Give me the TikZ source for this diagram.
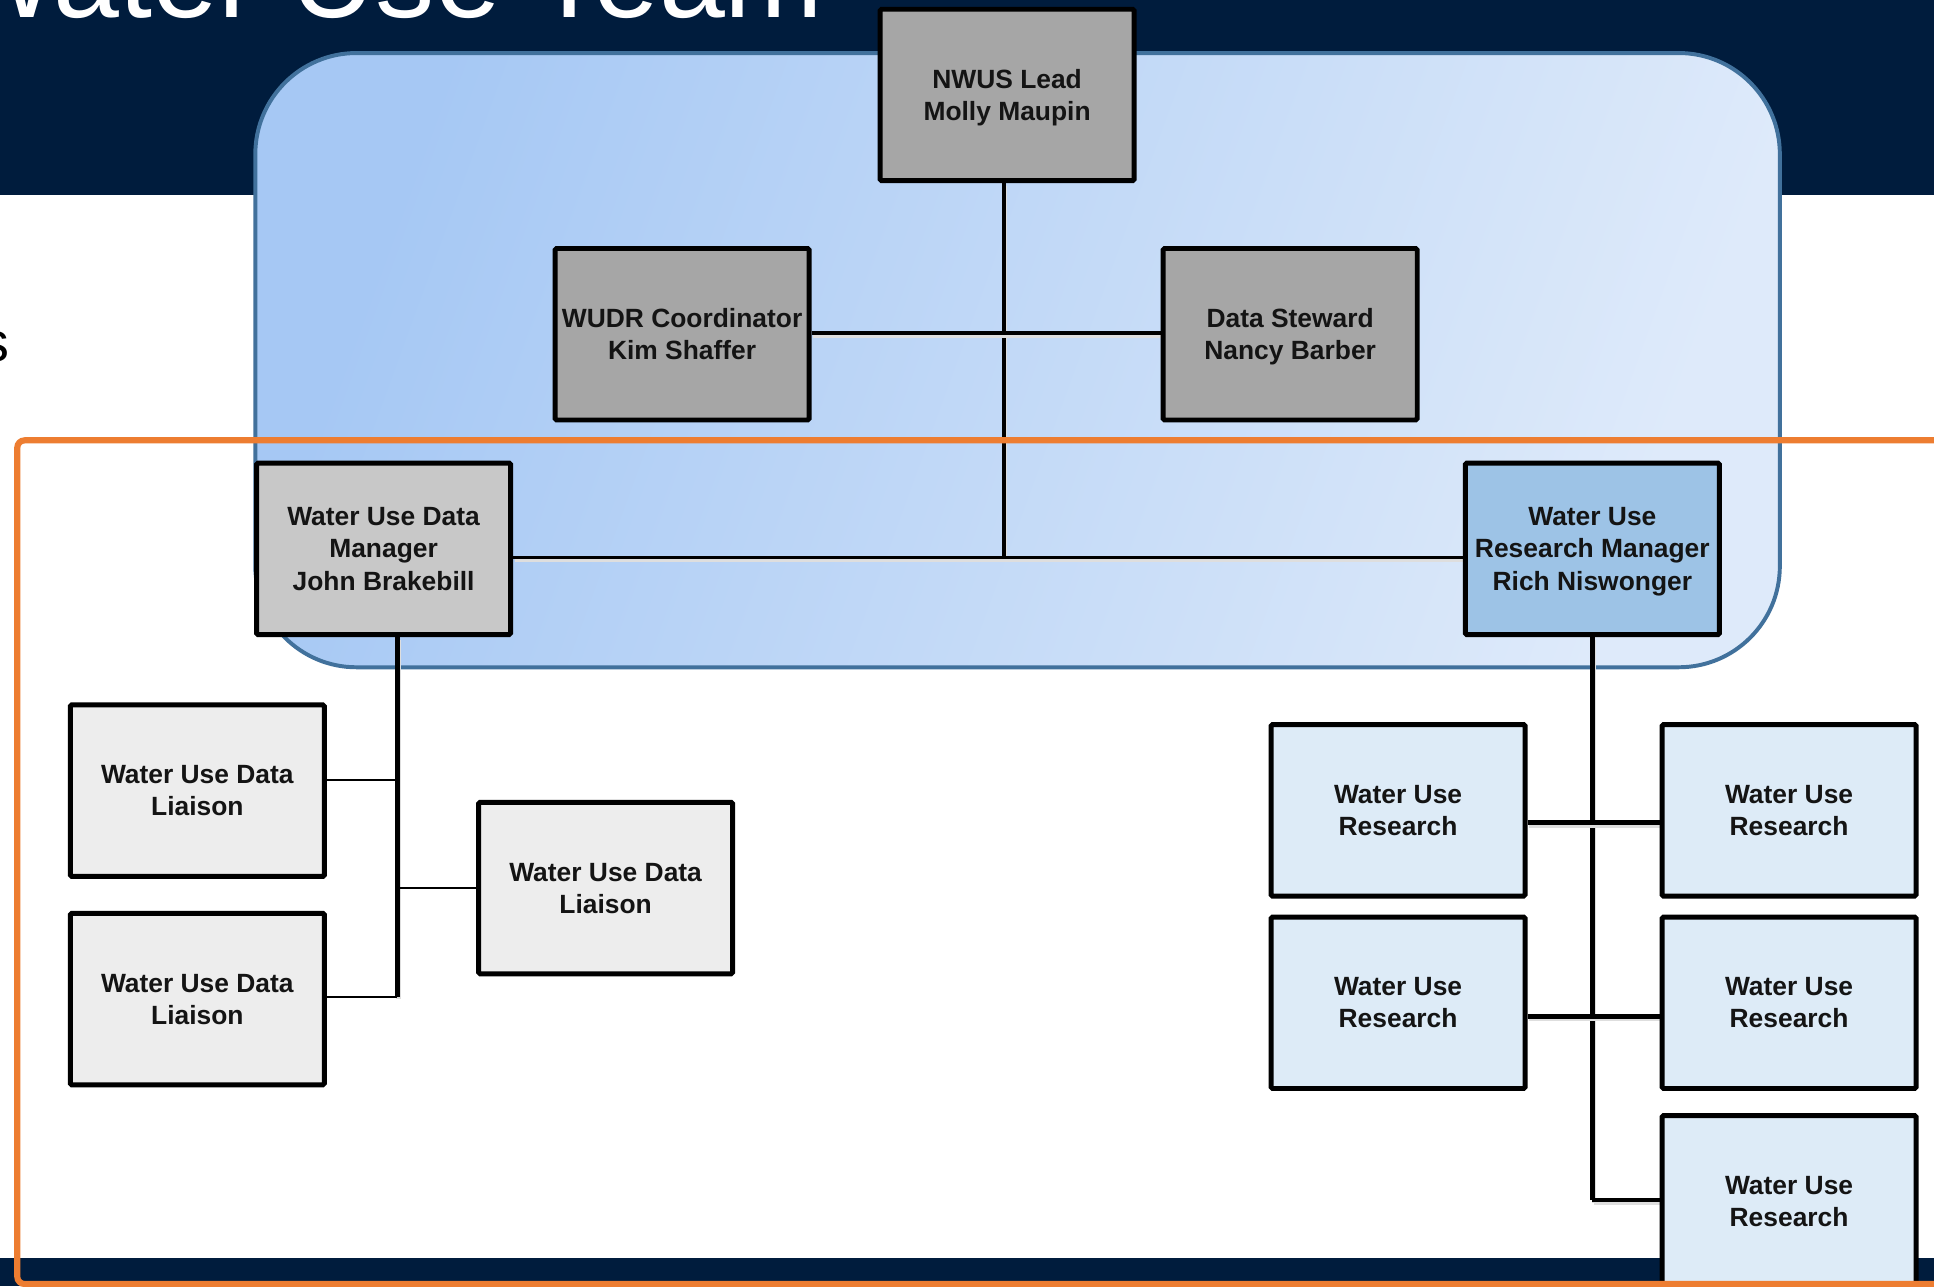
\documentclass[tikz,border=0pt]{standalone}
\usepackage{fontspec}
\setmainfont{Liberation Sans}
\definecolor{navy}{RGB}{0,28,61}
\definecolor{blueborder}{RGB}{65,113,156}
\definecolor{blueA}{RGB}{166,200,244}
\definecolor{blueB}{RGB}{222,234,250}
\definecolor{orangeln}{RGB}{237,125,49}
\definecolor{grayA}{RGB}{166,166,166}
\definecolor{grayB}{RGB}{200,200,200}
\definecolor{grayC}{RGB}{237,237,237}
\definecolor{blueC}{RGB}{157,195,230}
\definecolor{blueD}{RGB}{221,235,247}
\pgfdeclarelayer{bg}
\pgfdeclarelayer{lines}
\pgfdeclarelayer{fg}
\pgfsetlayers{bg,lines,main,fg}
\begin{document}
\begin{tikzpicture}[x=0.5pt,y=-0.5pt,
  box/.style={draw=black, line width=2pt, minimum width=103pt, minimum height=69.5pt,
    inner sep=0pt, align=center, font=\fontsize{10.7}{13}\selectfont\bfseries,
    text=black!92, text depth=0pt, rounded corners=0.6pt},
  lineshadow/.style={preaction={draw=black!13, line width=#1, transform canvas={shift={(0.6pt,-1pt)}}}},
  thickln/.style={draw=black, line width=1.9pt, lineshadow=1.9pt},
  midln/.style={draw=black, line width=1.25pt, lineshadow=1.25pt},
  hairln/.style={draw=black, line width=0.8pt}
]
\useasboundingbox (0,0) rectangle (1568,1043);
\clip (0,0) rectangle (1568,1043);
\begin{pgfonlayer}{bg}
% background bands
\fill[white] (0,0) rectangle (1568,1043);
\fill[navy] (0,0) rectangle (1568,158);
\fill[navy] (0,1020) rectangle (1568,1043);
% title and cut text
\node[anchor=base west, inner sep=0pt, text=white, font=\fontsize{48}{50}\selectfont] (title) at (-44,14) {Water Use Team};
\node[anchor=base east, inner sep=0pt, text=black, font=\fontsize{22.6}{26}\selectfont] (bul) at (8,293) {s};
% blue team area
\path[draw=blueborder, line width=1.6pt, rounded corners=41pt, left color=blueA, right color=blueB, shading angle=70] (207,43) rectangle (1443,541);
\end{pgfonlayer}
% nodes
\node[box, fill=grayA] (nwus) at (816.5,77) {NWUS Lead\\Molly Maupin};
\node[box, fill=grayA] (wudr) at (553,271) {WUDR Coordinator\\Kim Shaffer};
\node[box, fill=grayA] (ds) at (1046,271) {Data Steward\\Nancy Barber};
\node[box, fill=grayB] (dm) at (311,445) {Water Use Data\\Manager\\John Brakebill};
\node[box, fill=blueC] (rm) at (1291,445) {Water Use\\Research Manager\\Rich Niswonger};
\node[box, fill=grayC] (l1) at (160,641) {Water Use Data\\Liaison};
\node[box, fill=grayC] (l2) at (160,810) {Water Use Data\\Liaison};
\node[box, fill=grayC] (l3) at (491,720) {Water Use Data\\Liaison};
\node[box, fill=blueD] (r1) at (1133.5,657) {Water Use\\Research};
\node[box, fill=blueD] (r2) at (1450.5,657) {Water Use\\Research};
\node[box, fill=blueD] (r3) at (1133.5,813) {Water Use\\Research};
\node[box, fill=blueD] (r4) at (1450.5,813) {Water Use\\Research};
\node[box, fill=blueD] (r5) at (1450.5,974) {Water Use\\Research};
% connectors (behind nodes)
\coordinate (hy) at (814,452);
\coordinate (dv) at (322,808);
\coordinate (rv) at (1291,973);
\begin{pgfonlayer}{lines}
\draw[midln] (nwus.south -| hy) -- (hy);
\draw[midln] (dm.east |- hy) -- (rm.west |- hy);
\draw[thickln] (wudr.east |- 0,270) -- (ds.west |- 0,270);
\draw[thickln] (dm.south -| dv) -- (dv);
\draw[hairln] (l1.east |- 0,632) -- (dv |- 0,632);
\draw[hairln] (l2.east |- dv) -- (dv);
\draw[hairln] (dv |- 0,720) -- (l3.west |- 0,720);
\draw[thickln] (rm.south) -- (rv);
\draw[thickln] (r1.east |- 0,667) -- (r2.west |- 0,667);
\draw[thickln] (r3.east |- 0,824) -- (r4.west |- 0,824);
\draw[thickln] (rv) -- (r5.west |- rv);
\end{pgfonlayer}
% orange frame on top
\begin{pgfonlayer}{fg}
\draw[orangeln, line width=2.5pt, rounded corners=3pt] (14,357) rectangle (1600,1041);
\end{pgfonlayer}
\end{tikzpicture}
\end{document}
